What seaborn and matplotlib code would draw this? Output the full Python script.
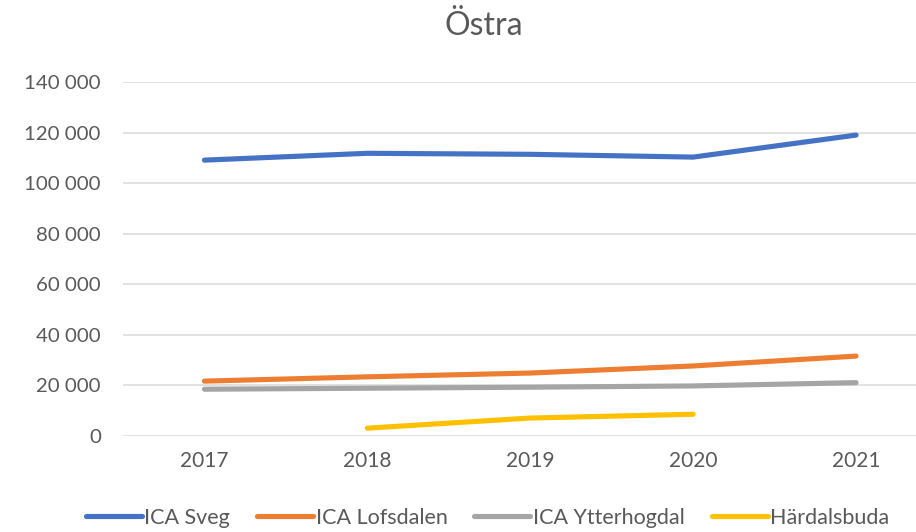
import numpy as np
import pandas as pd
import matplotlib
matplotlib.use("Agg")
import matplotlib.pyplot as plt
import seaborn as sns
from matplotlib.ticker import FuncFormatter, MultipleLocator

years = [2017, 2018, 2019, 2020, 2021]
series_names = ["ICA Sveg", "ICA Lofsdalen", "ICA Ytterhogdal", "Härdalsbuda"]
ica_sveg = [109100, 111800, 111400, 110300, 119000]
ica_lofsdalen = [21700, 23400, 24900, 27700, 31600]
ica_ytterhogdal = [18500, 18900, 19300, 19800, 21100]
hardalsbuda = [np.nan, 3100, 7100, 8600, np.nan]
colors = ["#4472C4", "#ED7D31", "#A5A5A5", "#FFC000"]
title = "Östra"

values = [ica_sveg, ica_lofsdalen, ica_ytterhogdal, hardalsbuda]
rows = []
for name, vals in zip(series_names, values):
    for y, v in zip(years, vals):
        rows.append({"År": y, "Värde": v, "Butik": name})
df = pd.DataFrame(rows)

sns.set_theme(style="white")
plt.rcParams["font.family"] = ["Lato", "DejaVu Sans"]
text_color = "#595959"

fig = plt.figure(figsize=(9.16, 5.32), dpi=100)
W, H = 916, 532
left, right, top, bottom = 123, 937.5, 82, 436
ax = fig.add_axes([left / W, (H - bottom) / H, (right - left) / W, (bottom - top) / H])

sns.lineplot(data=df, x="År", y="Värde", hue="Butik", hue_order=series_names,
             palette=colors, linewidth=3.7, ax=ax, legend=True)
for line in ax.get_lines():
    line.set_solid_capstyle("round")
    line.set_clip_on(False)

ax.set_xlim(2016.5, 2021.5)
ax.set_ylim(0, 140000)
ax.set_xticks(years)
ax.yaxis.set_major_locator(MultipleLocator(20000))
ax.yaxis.set_major_formatter(FuncFormatter(lambda v, p: f"{int(v):,}".replace(",", " ")))
ax.set_xlabel("")
ax.set_ylabel("")
ax.grid(axis="y", color="#D9D9D9", linewidth=1.1)
ax.grid(axis="x", visible=False)
ax.set_axisbelow(True)
for s in ax.spines.values():
    s.set_visible(False)
ax.tick_params(axis="y", length=0, pad=16, labelsize=14.7, labelcolor=text_color)
ax.tick_params(axis="x", length=0, pad=11, labelsize=15, labelcolor=text_color)

handles, labels = ax.get_legend_handles_labels()
ax.legend(handles, labels, loc="center", bbox_to_anchor=(487.5 / W, 14 / H),
          bbox_transform=fig.transFigure, ncol=4, frameon=False, fontsize=15.5,
          handlelength=2.6, handletextpad=0.12, columnspacing=1.25,
          labelcolor=text_color)
for lh in ax.get_legend().get_lines():
    lh.set_linewidth(3.7)
    lh.set_solid_capstyle("round")

fig.text(484 / W, 1 - 26 / H, title, ha="center", va="center", fontsize=23,
         color=text_color)

fig.savefig("out.png", dpi=100)
